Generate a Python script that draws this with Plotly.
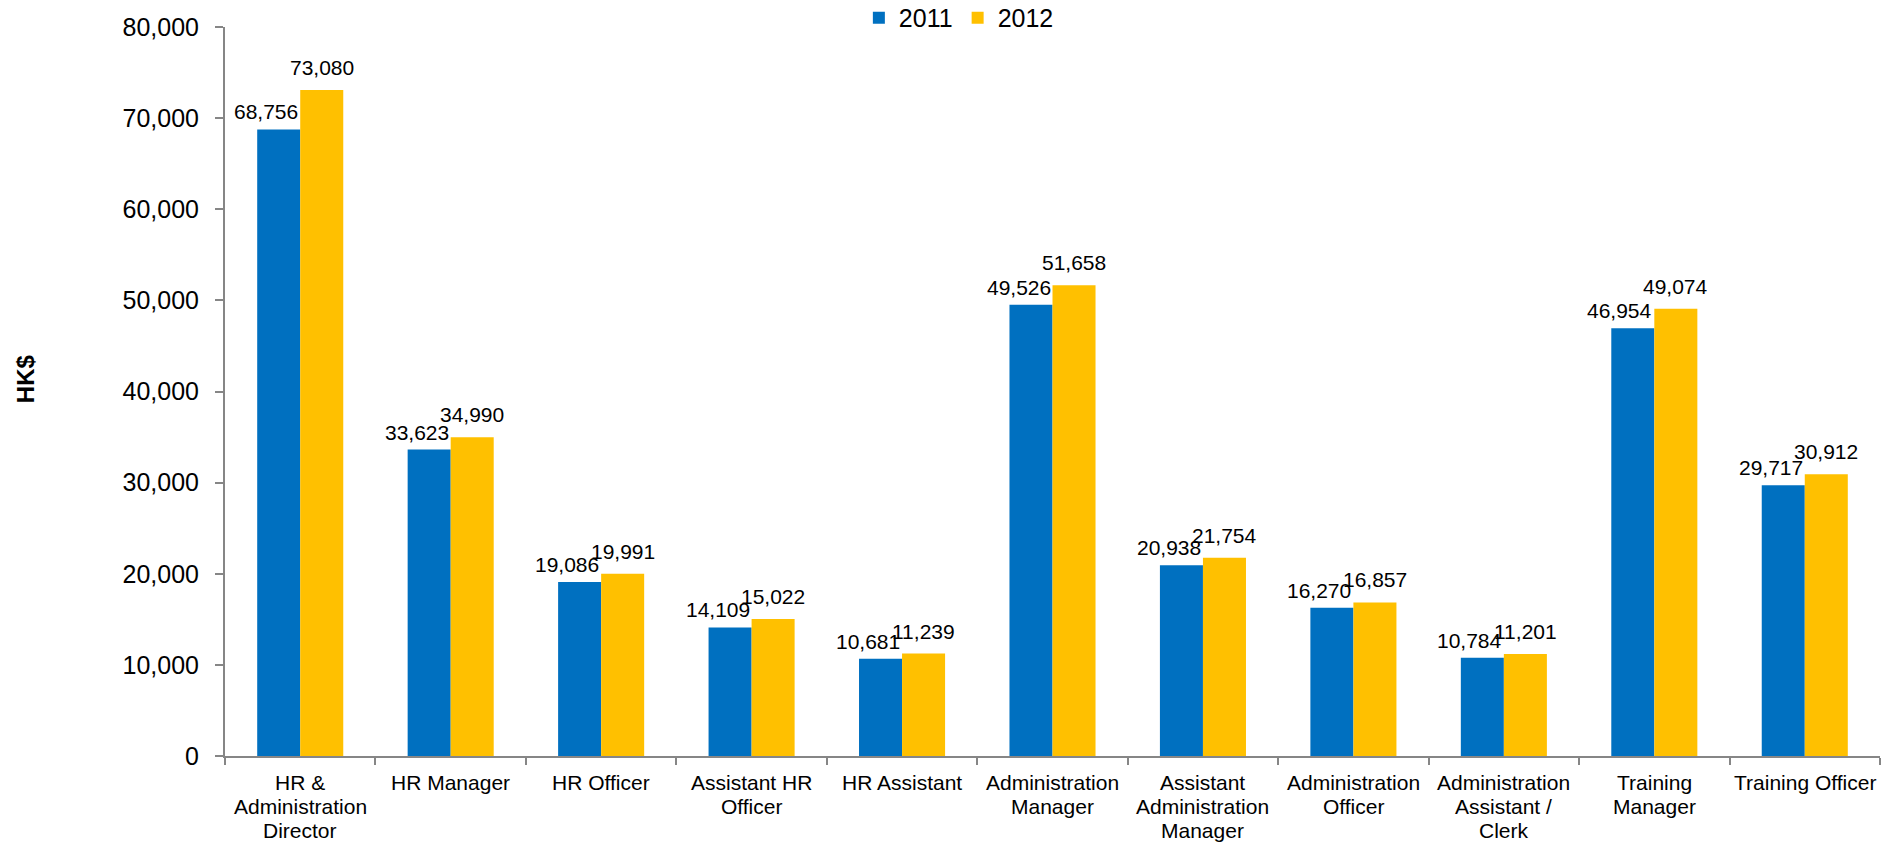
import plotly.graph_objects as go

# Monthly salary by position, HK$
categories = [
    "HR &<br>Administration<br>Director",
    "HR Manager",
    "HR Officer",
    "Assistant HR<br>Officer",
    "HR Assistant",
    "Administration<br>Manager",
    "Assistant<br>Administration<br>Manager",
    "Administration<br>Officer",
    "Administration<br>Assistant /<br>Clerk",
    "Training<br>Manager",
    "Training Officer",
]
salary_2011 = [68756, 33623, 19086, 14109, 10681, 49526, 20938, 16270, 10784, 46954, 29717]
salary_2012 = [73080, 34990, 19991, 15022, 11239, 51658, 21754, 16857, 11201, 49074, 30912]
y_ticks = [0, 10000, 20000, 30000, 40000, 50000, 60000, 70000, 80000]

BLUE = "#0070C0"
GOLD = "#FFC000"
FONT = "Liberation Sans, Arial, Helvetica, sans-serif"
AXIS_GREY = "#868686"

fig = go.Figure()
fig.add_trace(go.Bar(name="2011", x=categories, y=salary_2011,
                     marker=dict(color=BLUE, line=dict(width=0))))
fig.add_trace(go.Bar(name="2012", x=categories, y=salary_2012,
                     marker=dict(color=GOLD, line=dict(width=0))))

annotations = []
# 2011 labels sit right-aligned against the group centre, 2012 labels centred on their bar
for i, v in enumerate(salary_2011):
    annotations.append(dict(x=i, y=v, xref="x", yref="y", text=f"{v:,}",
                            showarrow=False, xanchor="right", yanchor="bottom",
                            yshift=4, font=dict(size=21, color="#000000", family=FONT)))
for i, v in enumerate(salary_2012):
    annotations.append(dict(x=i + 0.143, y=v, xref="x", yref="y", text=f"{v:,}",
                            showarrow=False, xanchor="center", yanchor="bottom",
                            yshift=9, font=dict(size=21, color="#000000", family=FONT)))

# category labels, one line at a time for a tighter line spacing
for i, cat in enumerate(categories):
    for k, line in enumerate(cat.split("<br>")):
        annotations.append(dict(x=i, y=0, xref="x", yref="y", text=line,
                                showarrow=False, xanchor="center", yanchor="middle",
                                yshift=-(26 + 24 * k),
                                font=dict(size=21, color="#000000", family=FONT)))

# y-axis title
annotations.append(dict(x=-0.1208, y=0.517, xref="paper", yref="paper", text="<b>HK$</b>",
                        showarrow=False, textangle=-90, xanchor="center", yanchor="middle",
                        font=dict(size=24, color="#000000", family=FONT)))

fig.update_layout(
    width=1893, height=843,
    margin=dict(l=225, r=13, t=27, b=87, autoexpand=False),
    plot_bgcolor="white", paper_bgcolor="white",
    barmode="group", bargap=0.428, bargroupgap=0,
    font=dict(family=FONT, color="#000000"),
    legend=dict(orientation="h", x=0.383, xanchor="left", y=1.044, yanchor="top",
                font=dict(size=25, family=FONT), itemwidth=30, tracegroupgap=0,
                bgcolor="rgba(0,0,0,0)"),
    annotations=annotations,
)
fig.update_xaxes(
    automargin=False, showticklabels=False,
    showline=True, linecolor=AXIS_GREY, linewidth=2,
    ticks="outside", tickson="boundaries", ticklen=7, tickcolor=AXIS_GREY, tickwidth=2,
    showgrid=False, zeroline=False,
)
fig.update_yaxes(
    automargin=False,
    range=[0, 80000], tickvals=y_ticks, tickformat=",",
    showline=True, linecolor=AXIS_GREY, linewidth=2,
    ticks="outside", ticklen=8, tickcolor=AXIS_GREY, tickwidth=2,
    tickfont=dict(size=25, family=FONT, color="#000000"),
    ticklabelstandoff=11,
    showgrid=False, zeroline=False,
)

fig.write_html("out.html")
